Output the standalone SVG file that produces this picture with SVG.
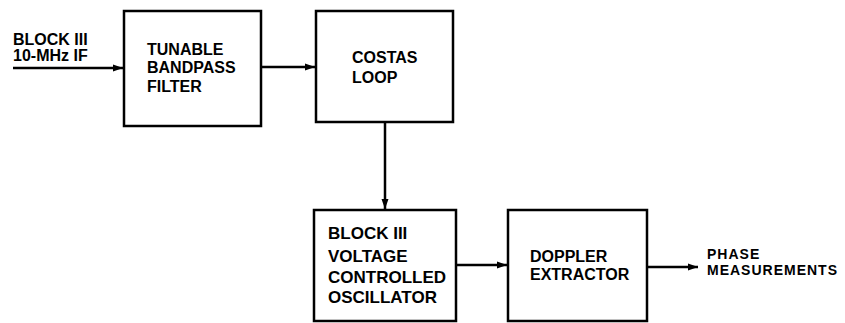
<svg xmlns="http://www.w3.org/2000/svg" width="845" height="323" viewBox="0 0 845 323">
<defs>
<marker id="ah" viewBox="0 0 10 10" refX="10" refY="5" markerWidth="4" markerHeight="4" orient="auto" markerUnits="strokeWidth">
<path d="M0,1.5 L10,5 L0,8.5 z" fill="#000"/>
</marker>
</defs>
<style>
.box{fill:#fff;stroke:#000;stroke-width:2.5}
.t{font-family:"Liberation Sans",Arial,sans-serif;font-weight:bold;font-size:16px;fill:#000}
.s{font-size:14px;letter-spacing:1px}
.w{font-size:17px}
.c{fill:none;stroke:#000;stroke-width:2.5;marker-end:url(#ah)}
</style>
<rect width="845" height="323" fill="#fff"/>
<g id="input-label">
<text class="t" x="13" y="45">BLOCK III</text>
<text class="t" x="13" y="61">10-MHz IF</text>
</g>
<g id="filter">
<rect class="box" x="124" y="11" width="137" height="115"/>
<text class="t" x="147" y="55">TUNABLE</text>
<text class="t" x="147" y="73">BANDPASS</text>
<text class="t" x="147" y="92">FILTER</text>
</g>
<g id="costas">
<rect class="box" x="316" y="11" width="137" height="111"/>
<text class="t" x="352" y="63">COSTAS</text>
<text class="t" x="352" y="83">LOOP</text>
</g>
<g id="vco">
<rect class="box" x="314" y="210" width="142" height="111"/>
<text class="t w" x="328" y="239">BLOCK III</text>
<text class="t w" x="328" y="262">VOLTAGE</text>
<text class="t w" x="328" y="283">CONTROLLED</text>
<text class="t w" x="328" y="303">OSCILLATOR</text>
</g>
<g id="doppler">
<rect class="box" x="508" y="210" width="139" height="111"/>
<text class="t" x="530" y="262">DOPPLER</text>
<text class="t" x="530" y="280">EXTRACTOR</text>
</g>
<g id="output-label">
<text class="t s" x="707" y="259">PHASE</text>
<text class="t s" x="707" y="275">MEASUREMENTS</text>
</g>
<g id="connectors">
<line class="c" x1="13" y1="68" x2="123" y2="68"/>
<line class="c" x1="261" y1="67" x2="315" y2="67"/>
<line class="c" x1="385" y1="122" x2="385" y2="209"/>
<line class="c" x1="456" y1="265" x2="507" y2="265"/>
<line class="c" x1="647" y1="267" x2="698" y2="267"/>
</g>
</svg>
